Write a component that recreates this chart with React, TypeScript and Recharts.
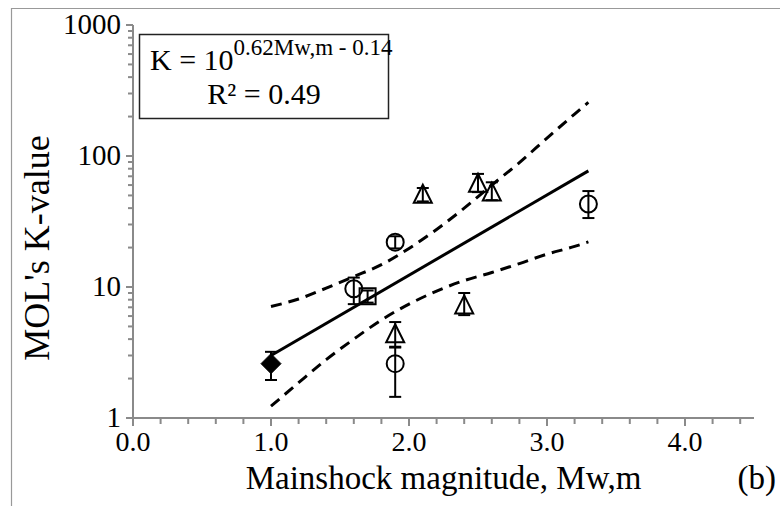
import React from 'react';
import { ComposedChart, Scatter, Line, XAxis, YAxis, ErrorBar } from 'recharts';

const FONT = '"Liberation Serif", "Times New Roman", serif';
const AXIS = '#8a8a8a';

// Open circles
const circleX = [1.6, 1.9, 1.9, 3.3];
const circleK = [9.7, 22, 2.6, 43];
const circleLow = [7.4, 19.7, 1.45, 33.6];
const circleHigh = [11.8, 24.4, 3.45, 54];

// Open triangles
const triangleX = [1.9, 2.1, 2.4, 2.5, 2.6];
const triangleK = [4.4, 51, 7.3, 62, 53];
const triangleLow = [3.5, 45, 6.1, 53, 46];
const triangleHigh = [5.4, 57, 9.0, 73, 63];

// Open square
const squareX = [1.7];
const squareK = [8.5];
const squareLow = [7.6];
const squareHigh = [9.4];

// Filled diamond
const diamondX = [1.0];
const diamondK = [2.6];
const diamondLow = [1.95];
const diamondHigh = [3.2];

// Regression line K = 10^(0.62Mw,m - 0.14)
const fitX = [1.0, 3.3];
const fitK = [3.0, 77];

// Confidence bands
const bandX = [1.0, 1.2, 1.4, 1.6, 1.8, 2.0, 2.2, 2.4, 2.6, 2.8, 3.0, 3.2, 3.3];
const upperK = [7.1, 8.1, 9.8, 12, 14.8, 19.7, 27.5, 40, 60, 89, 137, 209, 257];
const lowerK = [1.23, 1.86, 2.79, 4.0, 5.6, 7.4, 9.3, 11.2, 12.9, 15.1, 17.8, 20.4, 22.1];

// Axis ticks
const xMajorTicks = [0, 1, 2, 3, 4];
const xTicks = [0, 0.2, 0.4, 0.6, 0.8, 1, 1.2, 1.4, 1.6, 1.8, 2, 2.2, 2.4, 2.6, 2.8, 3, 3.2, 3.4, 3.6, 3.8, 4, 4.2, 4.4];
const yMajorTicks = [1, 10, 100, 1000];
const yTicks = [1, 2, 3, 4, 5, 6, 7, 8, 9, 10, 20, 30, 40, 50, 60, 70, 80, 90, 100, 200, 300, 400, 500, 600, 700, 800, 900, 1000];

const build = (xs: number[], ks: number[], lo: number[], hi: number[]) =>
  xs.map((x, i) => ({ x, y: ks[i], err: [ks[i] - lo[i], hi[i] - ks[i]] }));
const buildLine = (xs: number[], ks: number[]) => xs.map((x, i) => ({ x, y: ks[i] }));

const circleData = build(circleX, circleK, circleLow, circleHigh);
const triangleData = build(triangleX, triangleK, triangleLow, triangleHigh);
const squareData = build(squareX, squareK, squareLow, squareHigh);
const diamondData = build(diamondX, diamondK, diamondLow, diamondHigh);
const fitData = buildLine(fitX, fitK);
const upperData = buildLine(bandX, upperK);
const lowerData = buildLine(bandX, lowerK);

const CircleShape = (p: any) => (
  <circle cx={p.cx} cy={p.cy} r={8.5} fill="none" stroke="#000" strokeWidth={2} />
);
const TriangleShape = (p: any) => (
  <path d={`M${p.cx},${p.cy - 9.5}L${p.cx + 9},${p.cy + 8.5}L${p.cx - 9},${p.cy + 8.5}Z`} fill="none" stroke="#000" strokeWidth={2} />
);
const SquareShape = (p: any) => (
  <rect x={p.cx - 8} y={p.cy - 8} width={16} height={16} fill="none" stroke="#000" strokeWidth={2} />
);
const DiamondShape = (p: any) => (
  <path d={`M${p.cx},${p.cy - 10}L${p.cx + 10},${p.cy}L${p.cx},${p.cy + 10}L${p.cx - 10},${p.cy}Z`} fill="#000" stroke="#000" strokeWidth={1} />
);

const YTick = (props: any) => {
  const { x, y, payload } = props;
  const v = payload.value;
  const major = yMajorTicks.includes(v);
  return (
    <g>
      <line x1={x - (major ? 7 : 5)} x2={x} y1={y} y2={y} stroke={AXIS} strokeWidth={2} />
      {major && (
        <text x={x - 12} y={y} dy={9} textAnchor="end" fontFamily={FONT} fontSize={29} fill="#000">
          {v}
        </text>
      )}
    </g>
  );
};

const XTick = (props: any) => {
  const { x, y, payload } = props;
  const v = payload.value;
  const major = xMajorTicks.includes(v);
  return (
    <g>
      <line x1={x} x2={x} y1={y} y2={y + (major ? 8 : 6)} stroke={AXIS} strokeWidth={2} />
      {major && (
        <text x={x} y={y + 33} textAnchor="middle" fontFamily={FONT} fontSize={28} fill="#000">
          {v.toFixed(1)}
        </text>
      )}
    </g>
  );
};

const XTitle = (props: any) => {
  const vb = props.viewBox;
  return (
    <g>
      <text x={vb.x + vb.width / 2} y={vb.y + 71} textAnchor="middle" fontFamily={FONT} fontSize={33} fill="#000">
        Mainshock magnitude, Mw,m
      </text>
      <text x={776} y={vb.y + 71} textAnchor="end" fontFamily={FONT} fontSize={33} fill="#000">
        (b)
      </text>
    </g>
  );
};

const YTitle = () => {
  const cx = 37;
  const cy = 248;
  return (
    <text
      x={cx}
      y={cy}
      transform={`rotate(-90, ${cx}, ${cy})`}
      textAnchor="middle"
      dominantBaseline="central"
      fontFamily={FONT}
      fontSize={36}
      fill="#000"
    >
      MOL's K-value
    </text>
  );
};

export default function App() {
  return (
    <div style={{ position: 'absolute', left: 0, top: 0, width: 780, height: 506, background: '#fff' }}>
      <ComposedChart width={780} height={506} margin={{ top: 25, right: 26, left: 0, bottom: 0 }}>
        <XAxis
          dataKey="x"
          type="number"
          domain={[0, 4.5]}
          ticks={xTicks}
          interval={0}
          tickSize={0}
          tickMargin={0}
          tick={<XTick />}
          tickLine={false}
          height={88}
          stroke={AXIS}
          strokeWidth={2}
          allowDataOverflow
          label={<XTitle />}
        />
        <XAxis xAxisId="top" orientation="top" type="number" domain={[0, 4.5]} tick={false} tickLine={false} height={0} stroke={AXIS} strokeWidth={2} allowDataOverflow />
        <YAxis
          dataKey="y"
          type="number"
          scale="log"
          domain={[1, 1000]}
          ticks={yTicks}
          interval={0}
          tickSize={0}
          tickMargin={0}
          tick={<YTick />}
          tickLine={false}
          width={133}
          stroke={AXIS}
          strokeWidth={2}
          allowDataOverflow
          label={<YTitle />}
        />
        <YAxis yAxisId="right" orientation="right" type="number" domain={[0, 1]} tick={false} tickLine={false} width={0} stroke={AXIS} strokeWidth={2} allowDataOverflow />
        <Line data={upperData} dataKey="y" type="monotone" stroke="#000" strokeWidth={3} strokeDasharray="11 7" dot={false} activeDot={false} isAnimationActive={false} />
        <Line data={lowerData} dataKey="y" type="monotone" stroke="#000" strokeWidth={3} strokeDasharray="11 7" dot={false} activeDot={false} isAnimationActive={false} />
        <Line data={fitData} dataKey="y" type="linear" stroke="#000" strokeWidth={3} dot={false} activeDot={false} isAnimationActive={false} />
        <Scatter data={circleData} dataKey="y" shape={<CircleShape />} isAnimationActive={false}>
          <ErrorBar dataKey="err" direction="y" width={6} stroke="#000" strokeWidth={2} isAnimationActive={false} />
        </Scatter>
        <Scatter data={triangleData} dataKey="y" shape={<TriangleShape />} isAnimationActive={false}>
          <ErrorBar dataKey="err" direction="y" width={6} stroke="#000" strokeWidth={2} isAnimationActive={false} />
        </Scatter>
        <Scatter data={squareData} dataKey="y" shape={<SquareShape />} isAnimationActive={false}>
          <ErrorBar dataKey="err" direction="y" width={6} stroke="#000" strokeWidth={2} isAnimationActive={false} />
        </Scatter>
        <Scatter data={diamondData} dataKey="y" shape={<DiamondShape />} isAnimationActive={false}>
          <ErrorBar dataKey="err" direction="y" width={6} stroke="#000" strokeWidth={2} isAnimationActive={false} />
        </Scatter>
      </ComposedChart>
      <svg width={780} height={506} style={{ position: 'absolute', left: 0, top: 0, pointerEvents: 'none' }}>
        <line x1={11} y1={8.5} x2={780} y2={8.5} stroke="#999" strokeWidth={1.2} />
        <line x1={11.5} y1={8} x2={11.5} y2={506} stroke="#999" strokeWidth={1.2} />
        <rect x={139.5} y={34.5} width={249} height={84} fill="#fff" stroke="#222" strokeWidth={1.5} />
        <text x={150} y={70} fontFamily={FONT} fontSize={30} fill="#000">
          K = 10
          <tspan fontSize={23} dy={-15}>0.62Mw,m - 0.14</tspan>
        </text>
        <text x={264} y={104} textAnchor="middle" fontFamily={FONT} fontSize={30} fill="#000">
          R² = 0.49
        </text>
      </svg>
    </div>
  );
}
